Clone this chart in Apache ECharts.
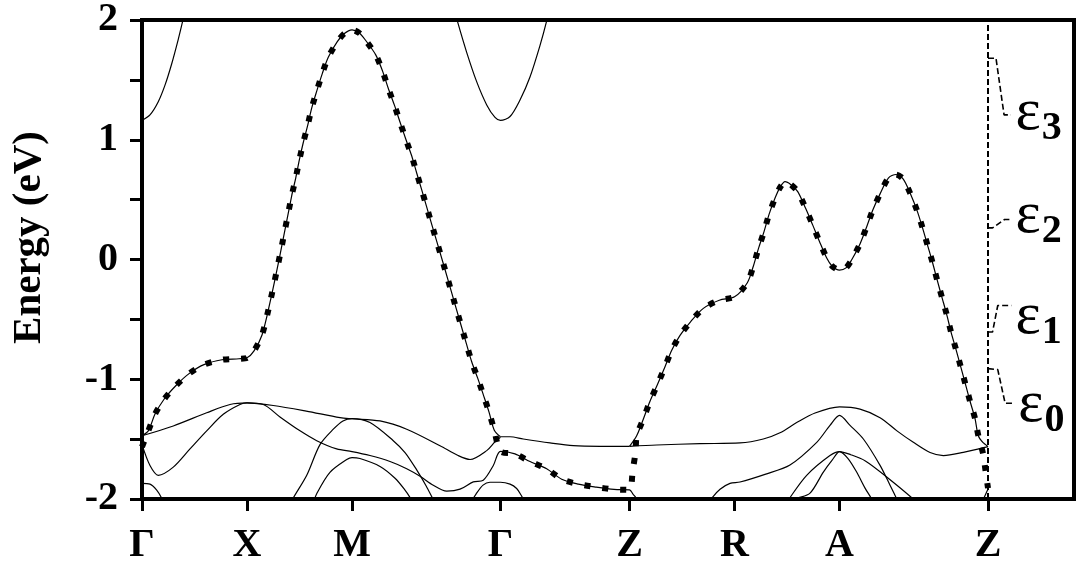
<!DOCTYPE html>
<html><head><meta charset="utf-8">
<script src="https://cdn.jsdelivr.net/npm/echarts@6/dist/echarts.min.js"></script>
<style>html,body{margin:0;padding:0;background:#fff}#c{width:1080px;height:566px}</style>
</head><body><div id="c"></div>
<script>
// ---- tick labels ----
const kLabels = ['Γ','X','M','Γ','Z','R','A','Z'];
const kTicks = [0, 1, 2, 3.414, 4.643, 5.643, 6.643, 8.057];
const yTickStep = 0.5;
const yTitle = 'Energy (eV)';

// ---- bands: [k, E(eV)] ----
const bandMainGXMG = [[0,-1.472],[0.06,-1.431],[0.124,-1.291],[0.21,-1.167],[0.324,-1.052],[0.448,-0.953],[0.59,-0.878],[0.762,-0.837],[0.924,-0.829],[1.0,-0.821],[1.067,-0.763],[1.143,-0.631],[1.219,-0.359],[1.314,0.037],[1.426,0.534],[1.464,0.68],[1.498,0.829],[1.536,0.977],[1.578,1.12],[1.616,1.264],[1.664,1.406],[1.717,1.552],[1.774,1.689],[1.86,1.819],[1.924,1.885],[2.0,1.918],[2.067,1.893],[2.127,1.833],[2.226,1.709],[2.292,1.571],[2.346,1.428],[2.403,1.291],[2.457,1.148],[2.511,1.008],[2.569,0.864],[2.616,0.722],[2.664,0.581],[2.762,0.285],[2.876,-0.054],[2.981,-0.375],[3.092,-0.711],[3.14,-0.854],[3.197,-0.991],[3.25,-1.128],[3.305,-1.274],[3.355,-1.425],[3.414,-1.48]];
const bandFlatGZ = [[3.414,-1.48],[3.505,-1.48],[3.631,-1.499],[3.886,-1.532],[4.108,-1.555],[4.362,-1.56],[4.643,-1.56]];
const bandMainZRAZ = [[4.643,-1.56],[4.711,-1.472],[4.774,-1.334],[4.838,-1.184],[4.908,-1.046],[4.981,-0.895],[5.045,-0.757],[5.124,-0.633],[5.226,-0.518],[5.346,-0.408],[5.498,-0.34],[5.643,-0.312],[5.765,-0.194],[5.822,-0.056],[5.87,0.089],[5.924,0.233],[5.971,0.375],[6.029,0.513],[6.075,0.6],[6.124,0.65],[6.18,0.625],[6.245,0.567],[6.321,0.425],[6.388,0.287],[6.45,0.155],[6.521,0.012],[6.571,-0.054],[6.643,-0.089],[6.705,-0.07],[6.759,-0.002],[6.838,0.13],[6.902,0.274],[6.959,0.411],[7.029,0.548],[7.108,0.68],[7.181,0.71],[7.25,0.672],[7.321,0.543],[7.384,0.402],[7.435,0.26],[7.483,0.114],[7.53,-0.029],[7.574,-0.175],[7.619,-0.318],[7.664,-0.46],[7.705,-0.606],[7.75,-0.744],[7.81,-0.936],[7.886,-1.184],[7.933,-1.326],[7.965,-1.472],[8.01,-1.53],[8.057,-1.563]];
const bandLowGXMGZ = [[0,-1.546],[0.076,-1.72],[0.155,-1.802],[0.298,-1.734],[0.457,-1.582],[0.616,-1.431],[0.774,-1.293],[0.933,-1.211],[1.0,-1.198],[1.155,-1.211],[1.314,-1.315],[1.505,-1.431],[1.664,-1.513],[1.854,-1.582],[2.0,-1.604],[2.171,-1.637],[2.362,-1.687],[2.521,-1.747],[2.648,-1.81],[2.774,-1.885],[2.902,-1.934],[3.029,-1.918],[3.155,-1.857],[3.25,-1.843],[3.346,-1.72],[3.414,-1.602],[3.552,-1.623],[3.695,-1.687],[3.854,-1.747],[3.997,-1.835],[4.155,-1.876],[4.324,-1.901],[4.495,-1.92],[4.643,-1.923],[4.676,-1.959],[4.714,-2.0],[4.743,-2.04]];
const bandA = [[0,-1.472],[0.298,-1.39],[0.616,-1.28],[0.838,-1.211],[1.0,-1.198],[1.25,-1.219],[1.564,-1.266],[1.886,-1.321],[2.0,-1.33],[2.267,-1.348],[2.521,-1.417],[2.838,-1.555],[3.01,-1.637],[3.124,-1.67],[3.283,-1.596],[3.362,-1.522],[3.414,-1.485]];
const bandC = [[3.124,-2.04],[3.181,-1.959],[3.248,-1.884],[3.314,-1.86],[3.414,-1.86],[3.505,-1.876],[3.568,-1.912],[3.61,-1.967],[3.648,-2.03]];
const bandD = [[1.419,-2.04],[1.438,-1.996],[1.569,-1.802],[1.695,-1.546],[1.822,-1.417],[1.914,-1.348],[2.0,-1.328],[2.171,-1.361],[2.393,-1.513],[2.505,-1.612],[2.616,-1.757],[2.705,-1.889],[2.771,-2.0],[2.79,-2.03]];
const bandE = [[1.629,-2.04],[1.667,-1.95],[1.79,-1.777],[1.95,-1.67],[2.0,-1.654],[2.076,-1.662],[2.267,-1.728],[2.41,-1.827],[2.505,-1.926],[2.562,-2.0],[2.59,-2.04]];
const bandF = [[0,-1.87],[0.076,-1.876],[0.14,-1.926],[0.188,-1.994],[0.2,-2.03]];
const bandG = [[5.4,-2.04],[5.429,-1.99],[5.505,-1.918],[5.6,-1.869],[5.695,-1.858],[5.933,-1.794],[6.171,-1.716],[6.426,-1.527],[6.552,-1.385],[6.643,-1.301],[6.743,-1.385],[6.87,-1.499],[7.029,-1.719],[7.124,-1.885],[7.188,-2.0],[7.21,-2.04]];
const bandT = [[4.643,-1.56],[4.902,-1.549],[5.314,-1.538],[5.695,-1.532],[5.917,-1.499],[6.076,-1.447],[6.235,-1.362],[6.41,-1.282],[6.643,-1.231],[6.838,-1.249],[7.029,-1.321],[7.19,-1.431],[7.346,-1.527],[7.505,-1.612],[7.632,-1.637],[7.822,-1.61],[8.057,-1.563]];
const bandH = [[6.133,-2.05],[6.162,-2.0],[6.33,-1.802],[6.552,-1.637],[6.643,-1.604],[6.75,-1.63],[6.889,-1.682],[7.092,-1.816],[7.345,-2.0],[7.371,-2.03]];
const bandI = [[6.152,-2.03],[6.238,-1.995],[6.362,-1.951],[6.489,-1.775],[6.571,-1.678],[6.643,-1.604],[6.724,-1.662],[6.806,-1.775],[6.886,-1.909],[6.949,-2.0],[6.962,-2.03]];
const bandZend = [[7.99,-2.05],[8.019,-1.992],[8.048,-1.934],[8.057,-1.918]];
const bandU1 = [[0,1.163],[0.076,1.208],[0.155,1.318],[0.219,1.456],[0.283,1.635],[0.346,1.841],[0.388,1.992],[0.41,2.07]];
const bandU2 = [[2.981,2.07],[3.003,1.992],[3.092,1.73],[3.188,1.483],[3.283,1.291],[3.362,1.186],[3.414,1.161],[3.505,1.194],[3.6,1.332],[3.695,1.524],[3.79,1.786],[3.854,1.992],[3.871,2.07]];

// ---- dotted (projected) band: jump points where it changes band ----
const overlayStart = [[0,-1.565]];
const overlayJumpZ1 = [[4.673,-1.761],[4.7,-1.612]];
const overlayJumpZ2 = [[8.01,-1.621],[8.033,-1.761],[8.057,-1.909]];

// ---- epsilon levels ----
const zLineK = 8.057;
const epsNames = ['3','2','1','0'];
const epsLeaders = [
  [[8.057,1.681],[8.133,1.681],[8.21,1.208],[8.276,1.208]],
  [[8.057,0.264],[8.1,0.264],[8.215,0.334],[8.28,0.334]],
  [[8.057,-0.606],[8.1,-0.606],[8.15,-0.384],[8.28,-0.384]],
  [[8.057,-0.911],[8.15,-0.92],[8.22,-1.2],[8.3,-1.2]]
];
const epsLabelPos = [[8.32,1.225],[8.32,0.359],[8.32,-0.48],[8.345,-1.216]];

// ---- build ----
const FONT = '"Liberation Serif","Times New Roman",serif';
const overlayPath = [].concat(
  overlayStart,
  bandMainGXMG.slice(1, -1),
  bandLowGXMGZ.filter(p => p[0] >= 3.414 && p[0] <= 4.643),
  overlayJumpZ1,
  bandMainZRAZ.slice(1, -2),
  overlayJumpZ2
);
function solid(data) {
  return {type:'line', data, symbol:'none', smooth:0.3, silent:true, z:2,
    lineStyle:{color:'#000', width:1.2}};
}
const bands = [bandMainGXMG, bandFlatGZ, bandMainZRAZ, bandLowGXMGZ, bandA, bandC, bandD, bandE, bandF,
  bandG, bandT, bandH, bandI, bandZend, bandU1, bandU2];
const series = bands.map(solid);
series.push({type:'line', data: overlayPath, symbol:'none', smooth:0.25, silent:true, z:4,
  lineStyle:{color:'#000', width:6, type:[6,12], cap:'butt'}});
series.push({type:'line', data:[[zLineK,-2],[zLineK,2]], symbol:'none', silent:true, z:3,
  lineStyle:{color:'#000', width:2, type:[6,3]}});
epsLeaders.forEach(d => series.push({type:'line', data:d, symbol:'none', silent:true, z:3,
  lineStyle:{color:'#000', width:1.6, type:[6,3]}}));
series.push({type:'scatter', data: epsLabelPos.map((p,i)=>[p[0],p[1],epsNames[i]]), symbolSize:0,
  itemStyle:{color:'#000', opacity:1}, silent:true, z:5,
  label:{show:true, position:'right', distance:0, color:'#000', opacity:1,
    formatter: p => '{e|ε}{s|' + p.data[2] + '}',
    rich:{
      e:{fontFamily:FONT, fontSize:60, lineHeight:60, color:'#000', opacity:1},
      s:{fontFamily:FONT, fontWeight:'bold', fontSize:40, lineHeight:40, padding:[31,0,0,1], color:'#000', opacity:1}
    }}});

const chart = echarts.init(document.getElementById('c'));
chart.setOption({
  animation:false,
  grid:{left:142, right:6, top:14, bottom:67, show:true, borderColor:'#000', borderWidth:4, backgroundColor:'#fff'},
  xAxis:{type:'value', min:0, max:8.876, splitLine:{show:false},
    axisLine:{show:true, onZero:false, lineStyle:{color:'#000', width:4}},
    axisTick:{show:true, customValues:kTicks, length:12, lineStyle:{color:'#000', width:3}},
    axisLabel:{show:true, customValues:kTicks, margin:27,
      formatter: v => { const i = kTicks.findIndex(t => Math.abs(t - v) < 1e-6); return i >= 0 ? kLabels[i] : ''; },
      fontFamily:FONT, fontWeight:'bold', fontSize:40, color:'#000'}
  },
  yAxis:{type:'value', min:-2, max:2, interval:yTickStep, splitLine:{show:false},
    axisLine:{show:true, onZero:false, lineStyle:{color:'#000', width:4}},
    axisTick:{show:true, length:12, lineStyle:{color:'#000', width:3}},
    axisLabel:{show:true, margin:24, formatter: v => Number.isInteger(v) ? String(v) : '',
      fontFamily:FONT, fontWeight:'bold', fontSize:40, color:'#000'},
    name:yTitle, nameLocation:'middle', nameGap:92, nameRotate:90,
    nameTextStyle:{fontFamily:FONT, fontWeight:'bold', fontSize:41, color:'#000', padding:[0,0,0,44]}
  },
  series
});
</script></body></html>
